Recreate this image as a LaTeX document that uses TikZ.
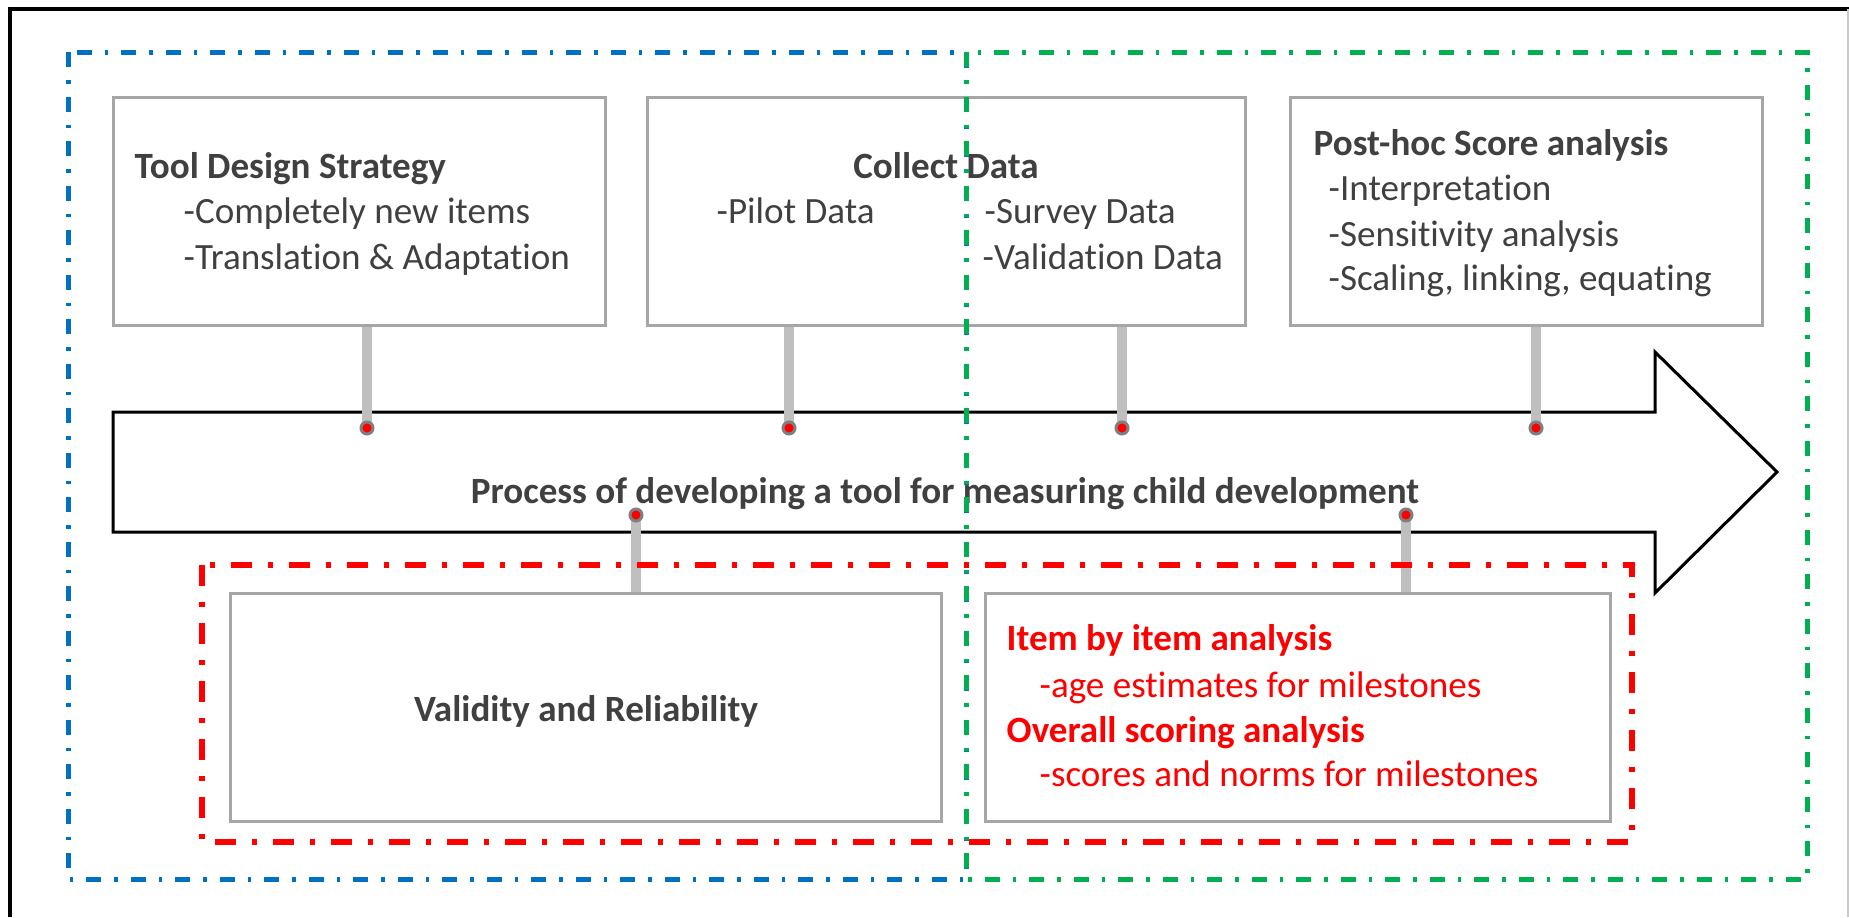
\documentclass[tikz,border=0pt]{standalone}
\usepackage{fontspec}
\setmainfont{Carlito}[Ligatures=NoCommon]
\usetikzlibrary{positioning, calc}
\definecolor{cText}  {HTML}{404040}
\definecolor{cBox}   {HTML}{A6A6A6}
\definecolor{cStem}  {HTML}{BFBFBF}
\definecolor{cPin}   {HTML}{7F7F7F}
\definecolor{cBlue}  {HTML}{0070C0}
\definecolor{cGreen} {HTML}{00B050}
\definecolor{cRed}   {HTML}{FF0000}

\tikzset{
  box/.style={draw=cBox, line width=0.3mm, fill=white, minimum height=22.8mm, inner sep=0pt},
  txt/.style={font=\fontsize{10.55pt}{12pt}\selectfont, text=cText, inner sep=0pt, anchor=base west},
  heading/.style={txt, font=\fontsize{10.55pt}{12pt}\selectfont\bfseries},
  stem/.style={draw=cStem, line width=1mm},
  pinhead/.style={circle, fill=cRed, draw=cPin, line width=0.3mm, minimum size=1.2mm, inner sep=0pt},
  phase/.style={line width=0.5mm, dash pattern=on 1.5mm off 1.3mm on 0.35mm off 1.3mm},
  redframe/.style={line width=0.6mm, dash pattern=on 2.1mm off 1.6mm on 0.5mm off 1.6mm},
}

\begin{document}
\begin{tikzpicture}[x=0.1mm, y=-0.1mm]
  \useasboundingbox (0,0) rectangle (1849,917);
  % frame
  \draw[line width=0.4mm] (10,917) -- (10,9) -- (1849,9);
  \draw[cBox!60, line width=0.15mm] (1848,9) -- (1848,917);

  % timeline arrow
  \draw[line width=0.3mm, fill=white] (113,412) -- (1655,412) -- (1655,352)
        -- (1777,472) -- (1655,593) -- (1655,532) -- (113,532) -- cycle;
  \node[heading, anchor=base] (title) at (945,503)
        {Process of developing a tool for measuring child development};

  % pin positions
  \coordinate (p1) at (367,428);
  \coordinate (p2) at (789,428);
  \coordinate (p3) at (1122,428);
  \coordinate (p4) at (1536,428);
  \coordinate (q1) at (636,515);
  \coordinate (q2) at (1406,515);

  % boxes
  \node[box, minimum width=49.2mm] (b1) at (359,211) {};
  \node[box, minimum width=59.8mm] (b2) at (946,211) {};
  \node[box, minimum width=47.2mm] (b3) at (1526,211) {};
  \node[box, minimum width=71.1mm] (b4) at (585.5,707) {};
  \node[box, minimum width=62.5mm] (b5) at (1297.5,707) {};

  % stems
  \draw[stem] (b1.south -| p1) -- (p1);
  \draw[stem] (b2.south -| p2) -- (p2);
  \draw[stem] (b2.south -| p3) -- (p3);
  \draw[stem] (b3.south -| p4) -- (p4);
  \draw[stem] (q1) -- (q1 |- b4.north);
  \draw[stem] (q2) -- (q2 |- b5.north);
  \foreach \p in {p1,p2,p3,p4,q1,q2}
    \node[pinhead] at (\p) {};

  % box texts
  \node[heading] (t1) at (134,178) {Tool Design Strategy};
  \node[txt] (t1a) at (183,223) {-Completely new items};
  \node[txt] (t1b) at (183,269) {-Translation \& Adaptation};

  \node[heading, anchor=base] (t2) at (946,178) {Collect Data};
  \node[txt] (t2a) at (716,223) {-Pilot Data};
  \node[txt] (t2b) at (984,223) {-Survey Data};
  \node[txt] (t2c) at (982,269) {-Validation Data};

  \node[heading] (t3) at (1313,155) {Post-hoc Score analysis};
  \node[txt] (t3a) at (1328,200) {-Interpretation};
  \node[txt] (t3b) at (1328,246) {-Sensitivity analysis};
  \node[txt] (t3c) at (1328,290) {-Scaling, linking, equating};

  \node[heading, anchor=base] (t4) at (586,721) {Validity and Reliability};

  \node[heading, text=cRed] (t5) at (1006,650) {Item by item analysis};
  \node[txt, text=cRed] (t5a) at (1039,697) {-age estimates for milestones};
  \node[heading, text=cRed] (t5b) at (1006,742) {Overall scoring analysis};
  \node[txt, text=cRed] (t5c) at (1039,786) {-scores and norms for milestones};

  % phase frames
  \draw[phase, cBlue] (68,52) rectangle (966,879);
  \draw[phase, cGreen] (966,52) rectangle (1807,879);
  \draw[redframe, cRed] (202,565) rectangle (1632,842);
\end{tikzpicture}
\end{document}
